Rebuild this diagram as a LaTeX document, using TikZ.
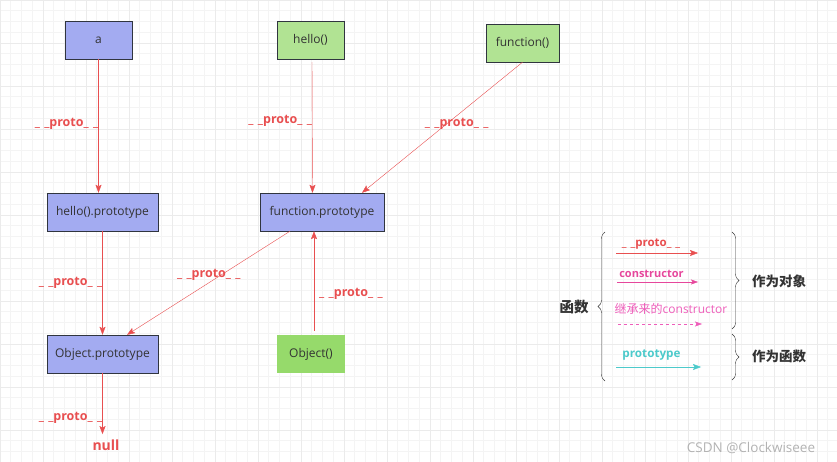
\documentclass[tikz,border=0pt]{standalone}
\usepackage{fontspec}
\setmainfont{Open Sans}
\newfontfamily\cjk{Noto Sans CJK SC}
\usetikzlibrary{arrows.meta,decorations.pathreplacing}
\definecolor{protored}{HTML}{E84F50}
\definecolor{ctorpink}{HTML}{E6479C}
\definecolor{inhpink}{HTML}{EE5DBA}
\definecolor{prototeal}{HTML}{4CCACB}
\definecolor{objblue}{HTML}{A3ABF1}
\definecolor{fngreen}{HTML}{B1E393}
\definecolor{ctorgreen}{HTML}{96DA6B}
\definecolor{boxedge}{HTML}{30353F}
\definecolor{gridlo}{HTML}{F4F4F4}
\definecolor{gridhi}{HTML}{EBEBEB}

\newcommand{\protoname}{\_\hspace{.35em}\_proto\_\hspace{.35em}\_}

\tikzset{
  box/.style={minimum height=38pt, inner sep=2pt, text=black!80,
    font=\fontsize{12}{14}\selectfont},
  objbox/.style={box, draw=boxedge, fill=objblue},
  fnbox/.style={box, draw=boxedge, fill=fngreen},
  protoline/.style={draw=protored, -{Stealth[length=8pt,width=6pt,inset=1.5pt]}},
  protolbl/.style={text=protored, inner sep=0pt, yshift=-2pt,
    font=\fontsize{12.5}{14}\selectfont\bfseries},
  bracetext/.style={text=black!80, font=\cjk\fontsize{13.5}{15}\selectfont\bfseries},
  legbrace/.style={draw=black!80, decorate, decoration={brace, amplitude=7pt}}
}

\begin{document}
\begin{tikzpicture}[x=1pt, y=-1pt]
	\useasboundingbox (0,0) rectangle (837,462);
	% background grid
	\foreach \i in {0,...,78}
		\draw[gridlo, line width=.6pt] (\i*10.75,0) -- (\i*10.75,462);
	\foreach \j in {0,...,43}
		\draw[gridlo, line width=.6pt] (0,\j*10.75) -- (837,\j*10.75);
	\foreach \i in {0,...,19}
		\draw[gridhi, line width=.6pt] (\i*43,0) -- (\i*43,462);
	\foreach \j in {0,...,10}
		\draw[gridhi, line width=.6pt] (0,\j*43) -- (837,\j*43);

	% boxes
	\node[objbox, minimum width=67pt] (a) at (98.5,40) {a};
	\node[fnbox, minimum width=67pt] (hello) at (310.5,40) {hello()};
	\node[fnbox, minimum width=73pt] (fn) at (522.5,43) {function()};
	\node[objbox, minimum width=111pt] (helloproto) at (102.5,212) {hello().prototype};
	\node[objbox, minimum width=124pt] (fnproto) at (322,212) {function.prototype};
	\node[objbox, minimum width=111pt] (objproto) at (102.5,354) {Object.prototype};
	\node[box, fill=ctorgreen, minimum width=68pt] (objfn) at (311,354) {Object()};
	\node[text=protored, font=\fontsize{14}{16}\selectfont\bfseries] (null) at (106,445) {null};

	% __proto__ links
	\draw[protoline] (a.south) -- (helloproto.north -| a.south)
		node[protolbl, pos=.47, anchor=east] {\protoname};
	\draw[protoline, shorten <=3pt] ([xshift=1.5pt]hello.south) -- ([xshift=-9.5pt]fnproto.north)
		node[protolbl, pos=.45, anchor=east] {\protoname};
	\draw[protoline] (fn.south) -- ([xshift=40pt]fnproto.north)
		node[protolbl, pos=.46, xshift=8pt] {\protoname};
	\draw[protoline] (helloproto.south) -- (objproto.north)
		node[protolbl, pos=.48, anchor=east] {\protoname};
	\draw[protoline] ([xshift=-32pt]fnproto.south) -- ([xshift=24.5pt]objproto.north)
		node[protolbl, pos=.4, xshift=-16pt] {\protoname};
	\draw[protoline, shorten <=4pt] ([xshift=3pt]objfn.north) -- ([xshift=-8pt]fnproto.south)
		node[protolbl, pos=.41, anchor=west, xshift=5pt] {\protoname};
	\draw[protoline, shorten >=2pt] (objproto.south) -- (null.north -| objproto.south)
		node[protolbl, pos=.68, anchor=east] {\protoname};

	% legend
	\coordinate (p1) at (616,253);  \coordinate (p2) at (698,253);
	\coordinate (c1) at (617,282);  \coordinate (c2) at (698,282);
	\coordinate (i1) at (618,324);  \coordinate (i2) at (702,324);
	\coordinate (t1) at (616,367);  \coordinate (t2) at (701,367);
	\draw[protoline] (p1) -- (p2) node[protolbl, midway, above=6pt, xshift=-6pt,
		font=\fontsize{11.5}{13}\selectfont\bfseries] {\protoname};
	\draw[draw=ctorpink, -{Stealth[length=7pt,width=5pt,inset=1.5pt]}] (c1) -- (c2)
		node[midway, above=4pt, xshift=-6pt, inner sep=0pt, text=ctorpink,
		font=\fontsize{11}{12}\selectfont\bfseries] {constructor};
	\draw[draw=inhpink, dashed, -{Stealth[length=7pt,width=5pt,inset=1.5pt]}] (i1) -- (i2);
	\node[text=inhpink, font=\fontsize{12}{13}\selectfont] (inh) at (671,309) {{\cjk 继承来的}constructor};
	\draw[draw=prototeal, -{Stealth[length=8pt,width=6pt,inset=1.5pt]}] (t1) -- (t2)
		node[midway, above=6pt, xshift=-7pt, inner sep=0pt, text=prototeal,
		font=\fontsize{11.7}{13}\selectfont\bfseries] {prototype};

	\draw[legbrace] (605,381) -- (605,232);
	\draw[legbrace] (732,232) -- (732,329);
	\draw[legbrace] (732,334) -- (732,380);
	\node[bracetext, font=\cjk\fontsize{14.5}{16}\selectfont\bfseries] (fnword) at (574,307) {函数};
	\node[bracetext] (asobj) at (779,281) {作为对象};
	\node[bracetext] (asfn) at (779,356) {作为函数};

	\node[text=black!30, font=\fontsize{13.5}{15}\selectfont] (mark) at (751,448) {CSDN @Clockwiseee};
\end{tikzpicture}
\end{document}
